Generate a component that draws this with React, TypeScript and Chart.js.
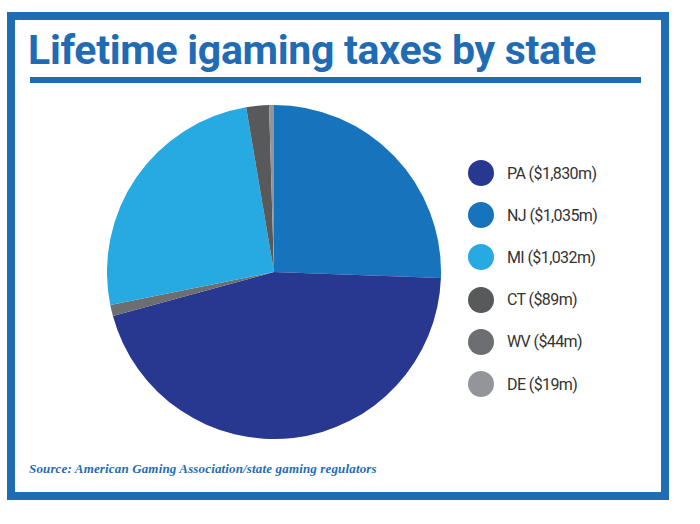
import React, { useEffect, useRef } from "react";
import { Chart, registerables } from "chart.js";

Chart.register(...registerables);

// Data (drawing order = clockwise from 12 o'clock, as in the reference)
const sliceStates = ["NJ", "PA", "WV", "MI", "CT", "DE"];
const sliceValues = [1035, 1830, 44, 1032, 89, 19];
const sliceColors = ["#1873bd", "#283891", "#6d6e71", "#27aae1", "#58595b", "#939598"];

// Legend order
const legendStates = ["PA", "NJ", "MI", "CT", "WV", "DE"];
const legendLabels = ["PA ($1,830m)", "NJ ($1,035m)", "MI ($1,032m)", "CT ($89m)", "WV ($44m)", "DE ($19m)"];

const titleText = "Lifetime igaming taxes by state";
const sourceText = "Source: American Gaming Association/state gaming regulators";

const BLUE = "#1f6cb5";

export default function App() {
  const canvasRef = useRef<HTMLCanvasElement | null>(null);

  useEffect(() => {
    if (!canvasRef.current) return;
    const chart = new Chart(canvasRef.current, {
      type: "pie",
      data: {
        labels: sliceStates,
        datasets: [
          {
            data: sliceValues,
            backgroundColor: sliceColors,
            borderWidth: 0,
          },
        ],
      },
      options: {
        animation: false,
        responsive: false,
        maintainAspectRatio: false,
        layout: { padding: 0 },
        plugins: {
          legend: { display: false },
          tooltip: { enabled: false },
          title: { display: false },
        },
      },
    });
    return () => chart.destroy();
  }, []);

  const colorFor = (s: string) => sliceColors[sliceStates.indexOf(s)];

  return (
    <div
      style={{
        position: "fixed",
        left: 0,
        top: 0,
        width: 700,
        height: 524,
        background: "#ffffff",
        overflow: "hidden",
      }}
    >
      <div
        style={{
          position: "absolute",
          left: 7,
          top: 12,
          width: 662,
          height: 488,
          border: `8px solid ${BLUE}`,
          boxSizing: "border-box",
        }}
      />
      <div
        style={{
          position: "absolute",
          left: 28,
          top: 30,
          fontFamily: "Roboto, 'Liberation Sans', sans-serif",
          fontWeight: 700,
          fontSize: 41,
          lineHeight: "41px",
          letterSpacing: "-0.3px",
          color: BLUE,
          whiteSpace: "nowrap",
        }}
      >
        {titleText}
      </div>
      <div
        style={{
          position: "absolute",
          left: 30,
          top: 77,
          width: 611,
          height: 6,
          background: BLUE,
        }}
      />
      <canvas
        ref={canvasRef}
        width={334}
        height={334}
        style={{ position: "absolute", left: 107, top: 105, width: 334, height: 334 }}
      />
      {legendStates.map((s, i) => (
        <div
          key={s}
          style={{
            position: "absolute",
            left: 468,
            top: 160 + i * 42.2,
            height: 26,
            display: "flex",
            alignItems: "center",
            whiteSpace: "nowrap",
          }}
        >
          <div
            style={{
              width: 26,
              height: 26,
              borderRadius: "50%",
              background: colorFor(s),
              flex: "none",
            }}
          />
          <span
            style={{
              marginLeft: 13,
              fontFamily: "Roboto, 'Liberation Sans', sans-serif",
              fontSize: 16,
              letterSpacing: "-0.6px",
              color: "#333333",
            }}
          >
            {legendLabels[i]}
          </span>
        </div>
      ))}
      <div
        style={{
          position: "absolute",
          left: 29,
          top: 462,
          fontFamily: "'Liberation Serif', 'DejaVu Serif', serif",
          fontStyle: "italic",
          fontWeight: 700,
          fontSize: 13,
          lineHeight: "14px",
          letterSpacing: "0.15px",
          color: BLUE,
          whiteSpace: "nowrap",
        }}
      >
        {sourceText}
      </div>
    </div>
  );
}
